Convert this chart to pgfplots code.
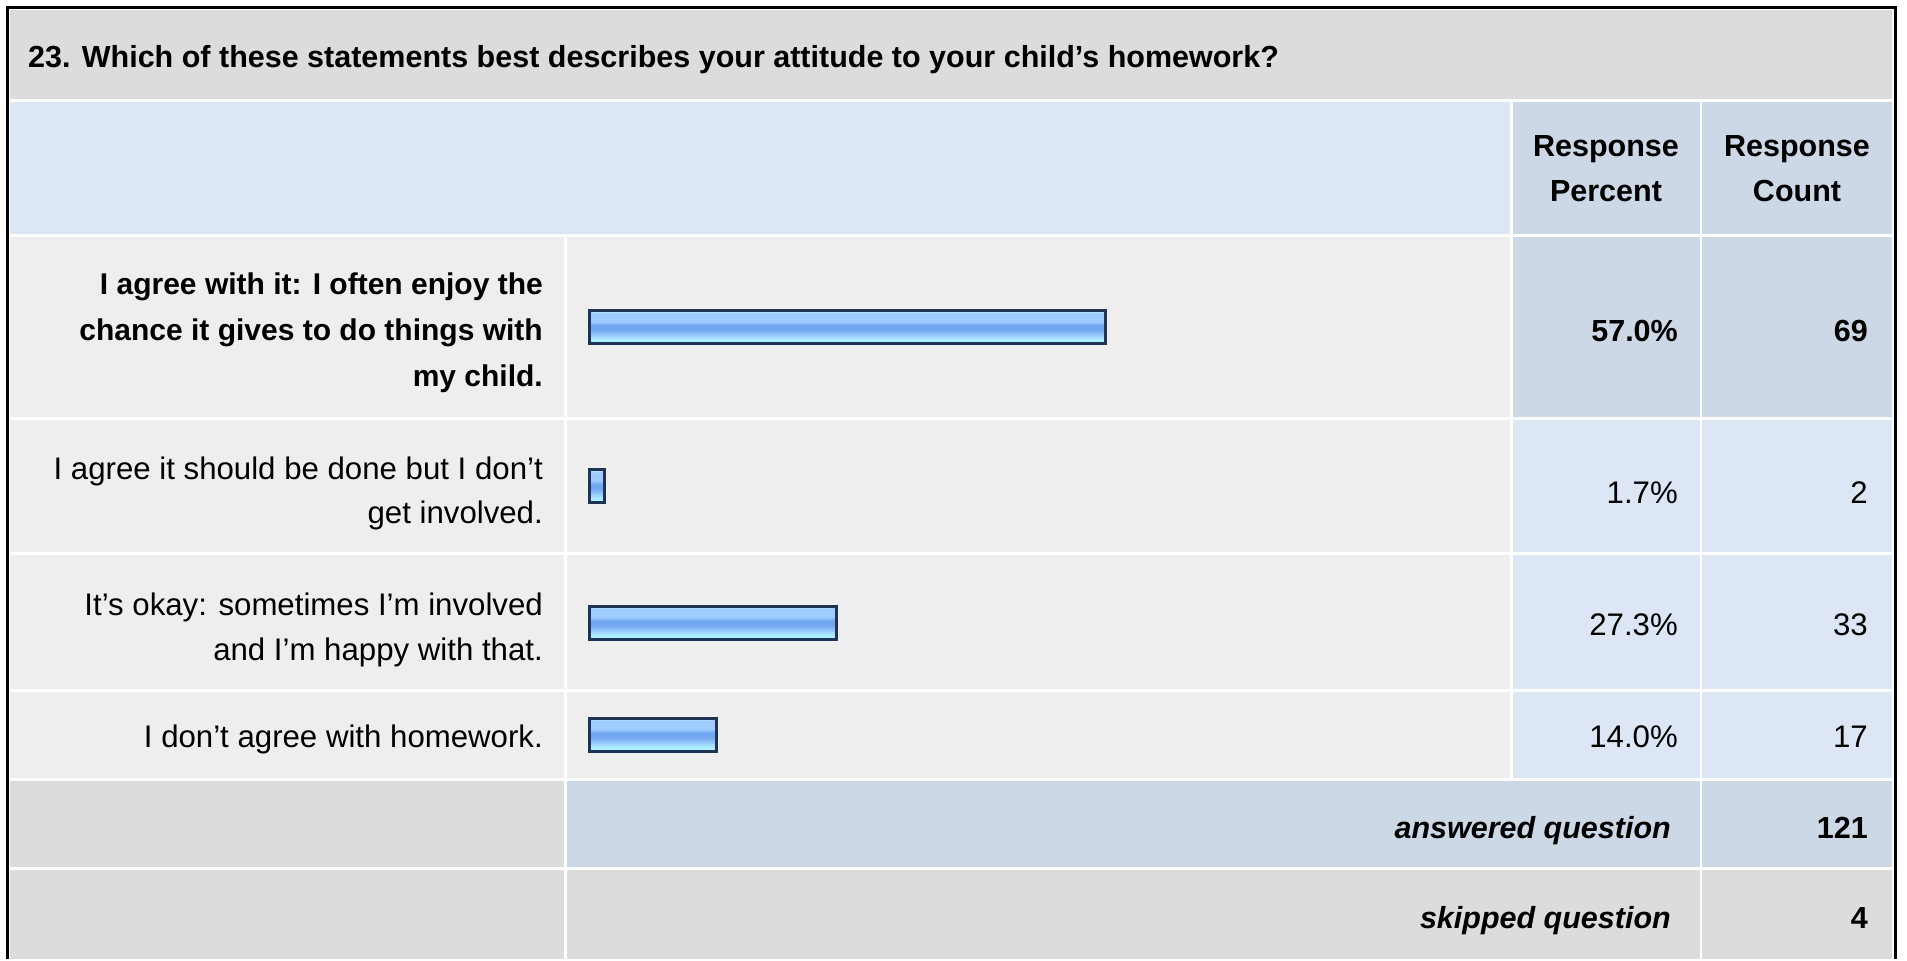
\documentclass[border=0pt]{standalone}
\usepackage{pgfplots}
\pgfplotsset{compat=1.18}
\usepackage{fontspec}
\setmainfont{Liberation Sans}
\definecolor{titlegray}{HTML}{DCDCDC}
\definecolor{hdrblue}{HTML}{DCE6F4}
\definecolor{darkblue}{HTML}{CCD8E6}
\definecolor{cellgray}{HTML}{EEEEEE}
\definecolor{barline}{HTML}{1F3354}
\definecolor{b0}{HTML}{D4EEFF}
\definecolor{b1}{HTML}{9ECCFF}
\definecolor{b2}{HTML}{72A8F2}
\definecolor{b3}{HTML}{8EC0FA}
\definecolor{b4}{HTML}{A8E4FF}
\definecolor{b5}{HTML}{B2FEFF}
\pgfdeclareverticalshading{barshade}{100bp}{color(0bp)=(b5); color(25bp)=(b5); color(33bp)=(b4); color(40bp)=(b3); color(46bp)=(b2); color(53bp)=(b2); color(58bp)=(b1); color(71bp)=(b1); color(75bp)=(b0); color(100bp)=(b0)}
\newcommand\fs{\fontsize{30.5}{36}\selectfont}
\newcommand\fr{\fontsize{31.2}{36}\selectfont}
\newcommand\fb{\fontsize{30}{36}\selectfont}
\begin{document}
\begin{tikzpicture}
\begin{axis}[at={(0pt,0pt)}, anchor=north west, width=1907pt, height=959pt, scale only axis,
  xmin=0, xmax=1907, ymin=0, ymax=959, y dir=reverse, hide axis, clip=false]
\fill[white] (axis cs:0,0) rectangle (axis cs:1907,959);
% title
\fill[titlegray] (axis cs:10,10) rectangle (axis cs:1892,99);
% header
\fill[hdrblue] (axis cs:10,102) rectangle (axis cs:1510,234);
\fill[darkblue] (axis cs:1512.5,102) rectangle (axis cs:1699.5,234);
\fill[darkblue] (axis cs:1702,102) rectangle (axis cs:1892,234);
% row 1
\fill[cellgray] (axis cs:10,237) rectangle (axis cs:564,416.5);
\fill[cellgray] (axis cs:567,237) rectangle (axis cs:1510,416.5);
\fill[darkblue] (axis cs:1512.5,237) rectangle (axis cs:1699.5,416.5);
\fill[darkblue] (axis cs:1702,237) rectangle (axis cs:1892,416.5);
% row 2
\fill[cellgray] (axis cs:10,419.5) rectangle (axis cs:564,552);
\fill[cellgray] (axis cs:567,419.5) rectangle (axis cs:1510,552);
\fill[hdrblue] (axis cs:1512.5,419.5) rectangle (axis cs:1699.5,552);
\fill[hdrblue] (axis cs:1702,419.5) rectangle (axis cs:1892,552);
% row 3
\fill[cellgray] (axis cs:10,555) rectangle (axis cs:564,689);
\fill[cellgray] (axis cs:567,555) rectangle (axis cs:1510,689);
\fill[hdrblue] (axis cs:1512.5,555) rectangle (axis cs:1699.5,689);
\fill[hdrblue] (axis cs:1702,555) rectangle (axis cs:1892,689);
% row 4
\fill[cellgray] (axis cs:10,692) rectangle (axis cs:564,777.5);
\fill[cellgray] (axis cs:567,692) rectangle (axis cs:1510,777.5);
\fill[hdrblue] (axis cs:1512.5,692) rectangle (axis cs:1699.5,777.5);
\fill[hdrblue] (axis cs:1702,692) rectangle (axis cs:1892,777.5);
% answered
\fill[titlegray] (axis cs:10,780.5) rectangle (axis cs:564,867);
\fill[darkblue] (axis cs:567,780.5) rectangle (axis cs:1699.5,867);
\fill[darkblue] (axis cs:1702,780.5) rectangle (axis cs:1892,867);
% skipped
\fill[titlegray] (axis cs:10,870) rectangle (axis cs:564,959);
\fill[titlegray] (axis cs:567,870) rectangle (axis cs:1699.5,959);
\fill[titlegray] (axis cs:1702,870) rectangle (axis cs:1892,959);
% outer frame
\draw[black, line width=3pt] (axis cs:7,959) -- (axis cs:7,7) -- (axis cs:1895,7) -- (axis cs:1895,959);
% texts
\node[anchor=base west, font=\fs\bfseries, inner sep=0pt] at (axis cs:28,67) {23. Which of these statements best describes your attitude to your child’s homework?};
\node[anchor=base, font=\fs\bfseries, inner sep=0pt] at (axis cs:1606,156.5) {Response};
\node[anchor=base, font=\fs\bfseries, inner sep=0pt] at (axis cs:1606,201.5) {Percent};
\node[anchor=base, font=\fs\bfseries, inner sep=0pt] at (axis cs:1797,156.5) {Response};
\node[anchor=base, font=\fs\bfseries, inner sep=0pt] at (axis cs:1797,201.5) {Count};
% row labels
\node[anchor=base east, font=\fb\bfseries, inner sep=0pt] at (axis cs:543,294.5) {I agree with it: I often enjoy the};
\node[anchor=base east, font=\fb\bfseries, inner sep=0pt] at (axis cs:543,340.5) {chance it gives to do things with};
\node[anchor=base east, font=\fb\bfseries, inner sep=0pt] at (axis cs:543,386.5) {my child.};
\node[anchor=base east, font=\fr, inner sep=0pt] at (axis cs:543,479) {I agree it should be done but I don’t};
\node[anchor=base east, font=\fr, inner sep=0pt] at (axis cs:543,523.5) {get involved.};
\node[anchor=base east, font=\fr, inner sep=0pt] at (axis cs:543,615) {It’s okay: sometimes I’m involved};
\node[anchor=base east, font=\fr, inner sep=0pt] at (axis cs:543,660) {and I’m happy with that.};
\node[anchor=base east, font=\fr, inner sep=0pt] at (axis cs:543,747.5) {I don’t agree with homework.};
% percents and counts
\node[anchor=base east, font=\fs\bfseries, inner sep=0pt] at (axis cs:1678,341) {57.0\%};
\node[anchor=base east, font=\fs\bfseries, inner sep=0pt] at (axis cs:1868,341) {69};
\node[anchor=base east, font=\fr, inner sep=0pt] at (axis cs:1678,503) {1.7\%};
\node[anchor=base east, font=\fr, inner sep=0pt] at (axis cs:1868,503) {2};
\node[anchor=base east, font=\fr, inner sep=0pt] at (axis cs:1678,635) {27.3\%};
\node[anchor=base east, font=\fr, inner sep=0pt] at (axis cs:1868,635) {33};
\node[anchor=base east, font=\fr, inner sep=0pt] at (axis cs:1678,747.5) {14.0\%};
\node[anchor=base east, font=\fr, inner sep=0pt] at (axis cs:1868,747.5) {17};
\node[anchor=base east, font=\fs\bfseries\itshape, inner sep=0pt] at (axis cs:1671,838) {answered question};
\node[anchor=base east, font=\fs\bfseries, inner sep=0pt] at (axis cs:1868,838) {121};
\node[anchor=base east, font=\fs\bfseries\itshape, inner sep=0pt] at (axis cs:1671,928) {skipped question};
\node[anchor=base east, font=\fs\bfseries, inner sep=0pt] at (axis cs:1868,928) {4};
\end{axis}
\begin{axis}[at={(589.5pt,0pt)}, anchor=north west, width=906pt, height=959pt, scale only axis,
  xmin=0, xmax=100, ymin=0, ymax=959, y dir=reverse, hide axis, clip=false,
  xbar, bar width=33pt, bar shift=0pt]
\addplot[draw=barline, line width=3pt, shading=barshade] coordinates {(57.0,327)};
\addplot[draw=barline, line width=3pt, shading=barshade] coordinates {(1.7,486)};
\addplot[draw=barline, line width=3pt, shading=barshade] coordinates {(27.3,622.5)};
\addplot[draw=barline, line width=3pt, shading=barshade] coordinates {(14.0,734.5)};
\end{axis}
\end{tikzpicture}
\end{document}
